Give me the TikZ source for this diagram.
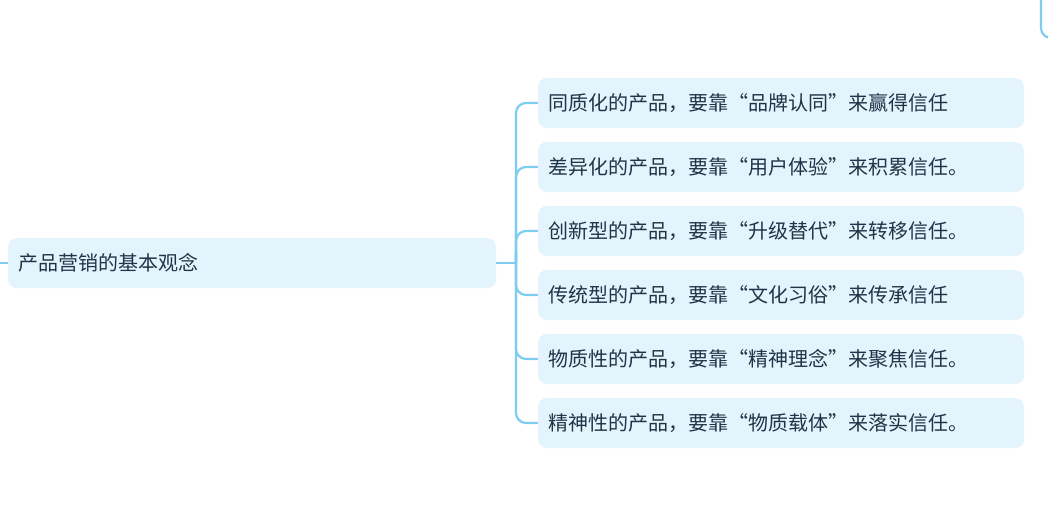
\documentclass[tikz,border=0pt]{standalone}
\usepackage{fontspec}
\newfontfamily\cjk{Noto Sans CJK SC}
\definecolor{boxfill}{HTML}{E3F4FD}
\definecolor{linec}{HTML}{7DCDF0}
\definecolor{txt}{HTML}{1F3447}
\begin{document}
\begin{tikzpicture}[x=1pt,y=-1pt,
  box/.style={fill=boxfill,rounded corners=9pt,minimum height=50pt,text width=#1,inner xsep=10pt,inner ysep=0pt,align=left,font=\cjk\fontsize{20}{22}\selectfont,text=txt},
  conn/.style={draw=linec,line width=2.2pt,rounded corners=10pt}]
\useasboundingbox (0,0) rectangle (1048,512);
\node[box=468pt] (root) at (252,263) {产品营销的基本观念};
\coordinate (lin) at (0,263);
\coordinate (tr) at (516,263);
\foreach \i/\t in {1/同质化的产品，要靠“品牌认同”来赢得信任,2/差异化的产品，要靠“用户体验”来积累信任。,3/创新型的产品，要靠“升级替代”来转移信任。,4/传统型的产品，要靠“文化习俗”来传承信任,5/物质性的产品，要靠“精神理念”来聚焦信任。,6/精神性的产品，要靠“物质载体”来落实信任。}{
  \node[box=466pt] (c\i) at (781,{103+64*(\i-1)}) {\t};
  \draw[conn] (tr) -- (516,263) |- (c\i.west);
}
\draw[conn] (lin) -- (root.west);
\draw[conn] (root.east) -- (tr);
\coordinate (a) at (1041,0);
\coordinate (b) at (1048,38);
\draw[conn] (a) |- (b);
\end{tikzpicture}
\end{document}
